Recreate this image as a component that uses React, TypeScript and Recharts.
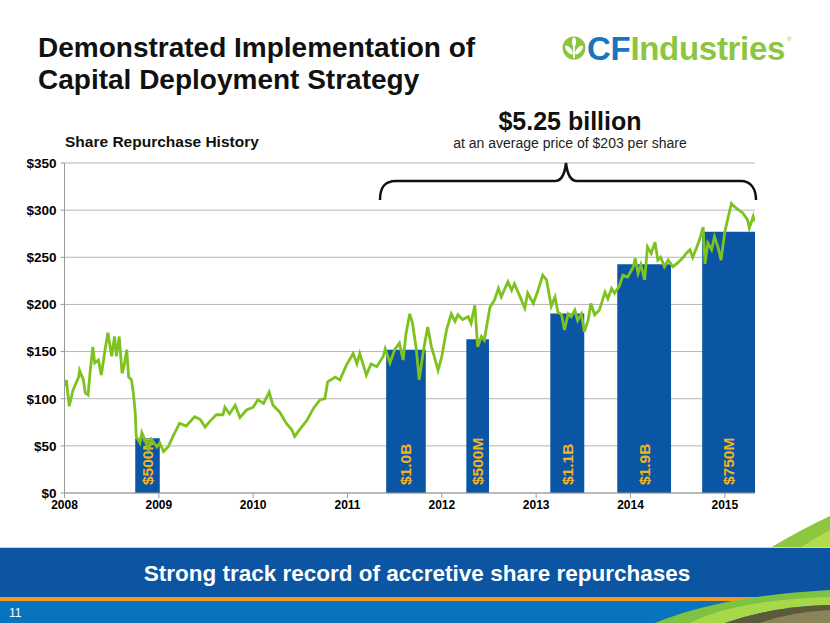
import React from 'react';
import { ComposedChart, Line, XAxis, YAxis, CartesianGrid, ReferenceArea } from 'recharts';

const FONT = '"Liberation Sans", Arial, Helvetica, sans-serif';

const yearTicks = [2008, 2009, 2010, 2011, 2012, 2013, 2014, 2015];
const priceTicks = [0, 50, 100, 150, 200, 250, 300, 350];

const priceDates = [
  2008.01, 2008.02, 2008.05, 2008.09, 2008.15, 2008.16, 2008.2, 2008.22, 2008.25, 2008.27,
  2008.3, 2008.32, 2008.36, 2008.39, 2008.43, 2008.46, 2008.5, 2008.53, 2008.55, 2008.58,
  2008.61, 2008.63, 2008.66, 2008.68, 2008.71, 2008.73, 2008.75, 2008.76, 2008.8, 2008.82,
  2008.85, 2008.89, 2008.92, 2008.98, 2009.01, 2009.05, 2009.1, 2009.15, 2009.22, 2009.29,
  2009.38, 2009.44, 2009.49, 2009.54, 2009.61, 2009.68, 2009.7, 2009.75, 2009.81, 2009.86,
  2009.93, 2010.0, 2010.05, 2010.11, 2010.17, 2010.21, 2010.28, 2010.35, 2010.41, 2010.44,
  2010.49, 2010.57, 2010.64, 2010.71, 2010.76, 2010.79, 2010.87, 2010.92, 2010.99, 2011.06,
  2011.1, 2011.13, 2011.2, 2011.25, 2011.31, 2011.38, 2011.4, 2011.45, 2011.5, 2011.55,
  2011.59, 2011.62, 2011.66, 2011.69, 2011.73, 2011.76, 2011.8, 2011.85, 2011.89, 2011.92,
  2011.96, 2012.0, 2012.05, 2012.1, 2012.14, 2012.17, 2012.22, 2012.28, 2012.31, 2012.35,
  2012.38, 2012.42, 2012.45, 2012.51, 2012.56, 2012.6, 2012.63, 2012.7, 2012.74, 2012.77,
  2012.83, 2012.88, 2012.91, 2012.97, 2013.02, 2013.07, 2013.11, 2013.16, 2013.2, 2013.23,
  2013.27, 2013.3, 2013.34, 2013.37, 2013.41, 2013.44, 2013.48, 2013.51, 2013.55, 2013.58,
  2013.62, 2013.67, 2013.73, 2013.76, 2013.8, 2013.83, 2013.88, 2013.92, 2013.97, 2014.03,
  2014.05, 2014.08, 2014.11, 2014.15, 2014.18, 2014.22, 2014.26, 2014.29, 2014.32, 2014.36,
  2014.4, 2014.45, 2014.5, 2014.56, 2014.59, 2014.63, 2014.66, 2014.7, 2014.73, 2014.77,
  2014.79, 2014.82, 2014.86, 2014.89, 2014.93, 2014.96, 2015.0, 2015.03, 2015.07, 2015.12,
  2015.19, 2015.24, 2015.26, 2015.3, 2015.31,
];

const prices = [
  113, 120, 92, 109, 123, 130, 120, 106, 104, 127,
  155, 138, 141, 125, 152, 170, 145, 166, 145, 166,
  127, 134, 152, 123, 120, 106, 85, 60, 53, 64,
  57, 46, 57, 49, 53, 44, 49, 60, 74, 71,
  81, 78, 70, 76, 83, 83, 91, 84, 93, 80,
  88, 91, 99, 95, 107, 93, 86, 74, 67, 60,
  67, 77, 90, 99, 100, 118, 123, 120, 136, 148,
  137, 148, 125, 137, 134, 145, 153, 138, 152, 159,
  141, 169, 190, 180, 152, 120, 148, 176, 155, 145,
  130, 145, 173, 190, 182, 189, 184, 187, 180, 199,
  155, 166, 162, 197, 205, 217, 208, 224, 215, 222,
  208, 196, 212, 201, 215, 231, 226, 198, 208, 192,
  189, 173, 190, 187, 194, 183, 190, 171, 183, 201,
  189, 194, 213, 206, 217, 212, 219, 231, 229, 240,
  249, 233, 242, 226, 261, 254, 266, 247, 250, 240,
  247, 240, 244, 250, 254, 258, 250, 260, 268, 282,
  243, 265, 258, 272, 260, 247, 277, 290, 307, 302,
  297, 290, 281, 293, 288,
];

const buybackStart = [2008.75, 2011.41, 2012.26, 2013.15, 2013.86, 2014.76];
const buybackEnd = [2009.01, 2011.83, 2012.5, 2013.51, 2014.43, 2015.32];
const buybackLevel = [58, 152, 163, 190.5, 242.5, 277];
const buybackLabels = ['$500M', '$1.0B', '$500M', '$1.1B', '$1.9B', '$750M'];

const priceData = priceDates.map((t, i) => ({ t, price: prices[i] }));

const makeBarLabel = (text: string) => (props: any) => {
  const vb = props && props.viewBox;
  if (!vb) return null;
  const cx = vb.x + vb.width / 2;
  const by = vb.y + vb.height - 8;
  return (
    <text
      x={cx}
      y={by}
      transform={`rotate(-90 ${cx} ${by})`}
      textAnchor="start"
      dominantBaseline="central"
      fill="#F3B41C"
      fontWeight="bold"
      fontSize={15.5}
      fontFamily={FONT}
    >
      {text}
    </text>
  );
};

export default function App() {
  return (
    <div style={{ position: 'absolute', left: 0, top: 0, width: 830, height: 623, background: '#fff', overflow: 'hidden', fontFamily: FONT }}>
      <div style={{ position: 'absolute', left: 0, top: 0 }}>
        <ComposedChart
          width={830}
          height={623}
          data={priceData}
          margin={{ top: 163, right: 75, bottom: 100, left: 4.5 }}
        >
          <CartesianGrid horizontal vertical={false} stroke="#b5b5b5" strokeWidth={1} />
          <XAxis
            type="number"
            dataKey="t"
            domain={[2008, 2015.32]}
            ticks={yearTicks}
            allowDataOverflow
            height={30}
            tickSize={5}
            tickMargin={2}
            axisLine={{ stroke: '#9a9a9a' }}
            tickLine={{ stroke: '#9a9a9a' }}
            tick={{ fill: '#000', fontSize: 12, fontWeight: 'bold', fontFamily: FONT }}
          />
          <YAxis
            type="number"
            domain={[0, 350]}
            ticks={priceTicks}
            width={60}
            tickSize={4}
            tickMargin={4}
            tickFormatter={(v: number) => `$${v}`}
            axisLine={{ stroke: '#9a9a9a' }}
            tickLine={{ stroke: '#9a9a9a' }}
            tick={{ fill: '#000', fontSize: 13.5, fontWeight: 'bold', fontFamily: FONT }}
          />
          {buybackStart.map((s, i) => (
            <ReferenceArea
              key={i}
              x1={s}
              x2={buybackEnd[i]}
              y1={0}
              y2={buybackLevel[i]}
              fill="#0B56A4"
              fillOpacity={1}
              stroke="none"
              label={{ content: makeBarLabel(buybackLabels[i]) }}
            />
          ))}
          <Line
            type="linear"
            dataKey="price"
            stroke="#7DC21F"
            strokeWidth={2.8}
            dot={false}
            isAnimationActive={false}
          />
        </ComposedChart>
      </div>

      <svg width={830} height={623} style={{ position: 'absolute', left: 0, top: 0, pointerEvents: 'none' }}>
        {/* Title */}
        <text x={38} y={57} fontSize={28} fontWeight="bold" fill="#111" fontFamily={FONT}>Demonstrated Implementation of</text>
        <text x={38} y={89} fontSize={28} fontWeight="bold" fill="#111" fontFamily={FONT}>Capital Deployment Strategy</text>

        {/* Logo */}
        <circle cx={574} cy={48} r={11.5} fill="#8CC63F" />
        <path d="M574 58 L574 43" stroke="#fff" strokeWidth={1.8} />
        <ellipse cx={569} cy={50} rx={2.3} ry={5.5} fill="#fff" transform="rotate(-40 569 50)" />
        <ellipse cx={579} cy={50} rx={2.3} ry={5.5} fill="#fff" transform="rotate(40 579 50)" />
        <ellipse cx={574} cy={42} rx={2} ry={4.5} fill="#fff" />
        <text x={587} y={60} fontSize={33} fontWeight="bold" fontFamily={FONT} letterSpacing={-0.3}>
          <tspan fill="#1B75BC">CF</tspan>
          <tspan fill="#8CC63F">Industries</tspan>
        </text>
        <text x={787} y={41} fontSize={6} fill="#8CC63F" fontFamily={FONT}>®</text>

        {/* Headline */}
        <text x={570} y={130} textAnchor="middle" fontSize={25} fontWeight="bold" fill="#111" fontFamily={FONT}>$5.25 billion</text>
        <text x={570} y={148} textAnchor="middle" fontSize={14} fill="#222" fontFamily={FONT}>at an average price of $203 per share</text>

        {/* Brace */}
        <path
          d="M380 200 C380 188 384 181 396 181 L555 181 C562 181 565 172 566 163 C567 172 570 181 577 181 L741 181 C751 181 756 189 756 200"
          fill="none"
          stroke="#111"
          strokeWidth={2.5}
        />

        <text x={65} y={147} fontSize={15.5} fontWeight="bold" fill="#111" fontFamily={FONT}>Share Repurchase History</text>

        {/* Bottom decoration */}
        <path d="M770 548 Q800 530 830 516 L830 548 Z" fill="#8DC63F" />
        <path d="M800 548 Q815 538 830 530 L830 548 Z" fill="#B2DC4A" />
        <rect x={0} y={547} width={830} height={1} fill="#c7d3e3" />
        <rect x={0} y={548} width={830} height={49} fill="#0B55A2" />
        <text x={417} y={581} textAnchor="middle" fontSize={22.5} fontWeight="bold" fill="#fff" fontFamily={FONT}>Strong track record of accretive share repurchases</text>
        <rect x={0} y={597} width={830} height={4} fill="#F39A1E" />
        <rect x={0} y={601} width={830} height={22} fill="#0873BE" />
        <path d="M655 623 Q720 596 830 590 L830 600 Q760 603 700 623 Z" fill="#7DC242" />
        <path d="M690 623 Q735 600 830 597 L830 605 Q775 606 725 623 Z" fill="#A6D84A" />
        <path d="M725 623 Q775 606 830 605 L830 623 Z" fill="#5B5A3A" />
        <path d="M760 623 Q790 612 830 610 L830 623 Z" fill="#8A8458" />
        <text x={9} y={617} fontSize={12} fill="#fff" fontFamily={FONT}>11</text>
      </svg>
    </div>
  );
}
